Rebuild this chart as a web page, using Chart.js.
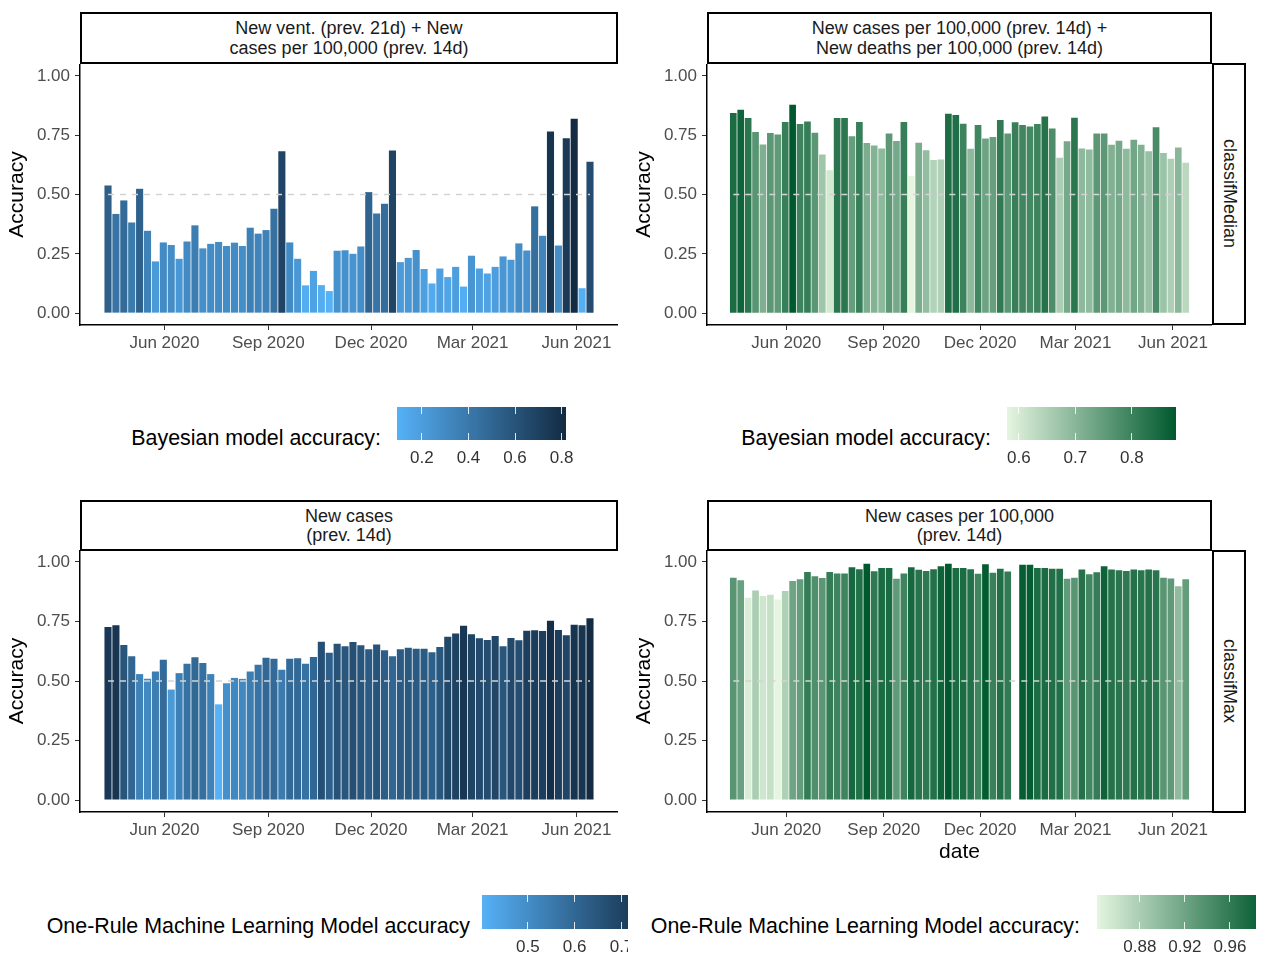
<!DOCTYPE html>
<html lang="en">
<head>
<meta charset="UTF-8">
<title>Model accuracy</title>
<script src="https://cdn.jsdelivr.net/npm/chart.js@4.4.1/dist/chart.umd.min.js"></script>
<style>
  body { margin: 0; background: #fff; font-family: "Liberation Sans", Arial, sans-serif; }
  #page { position: relative; width: 1265px; height: 955px; overflow: hidden; background: #fff; }
  canvas { position: absolute; }
  .strip { position: absolute; box-sizing: border-box; border: 2px solid #000; background: #fff;
           display: flex; align-items: center; justify-content: center; text-align: center;
           font-size: 18px; line-height: 19.5px; color: #1a1a1a; padding-top: 1px; }
  .strip.side { writing-mode: vertical-rl; padding-top: 0; }
  .legTitle { position: absolute; font-size: 21.4px; line-height: 24px; white-space: nowrap; color: #000; }
  .legBox { position: absolute; left: 0; top: 0; height: 955px; overflow: hidden; }
  .cbar { position: absolute; width: 169px; }
  .cbar i { position: absolute; width: 1px; background: rgba(255,255,255,0.85); }
  .legLab { position: absolute; font-size: 17px; line-height: 20px; color: #333; transform: translateX(-50%); white-space: nowrap; }
</style>
</head>
<body>
<div id="page">
  <div class="strip" style="left:80px;top:12px;width:538px;height:52px">New vent. (prev. 21d) + New<br>cases per 100,000 (prev. 14d)</div>
  <div class="strip" style="left:707px;top:12px;width:505px;height:52px">New cases per 100,000 (prev. 14d) +<br>New deaths per 100,000 (prev. 14d)</div>
  <div class="strip side" style="left:1212px;top:63px;width:34px;height:262px">classifMedian</div>
  <div class="strip" style="left:80px;top:500px;width:538px;height:51px">New cases<br>(prev. 14d)</div>
  <div class="strip" style="left:707px;top:500px;width:505px;height:51px">New cases per 100,000<br>(prev. 14d)</div>
  <div class="strip side" style="left:1212px;top:550px;width:34px;height:263px">classifMax</div>

  <canvas id="cTL" width="618" height="301" style="left:0;top:64px"></canvas>
  <canvas id="cTR" width="585" height="301" style="left:627px;top:64px"></canvas>
  <canvas id="cBL" width="618" height="302" style="left:0;top:550px"></canvas>
  <canvas id="cBR" width="585" height="324" style="left:627px;top:550px"></canvas>

  <div class="legTitle" style="right:884px;top:426px">Bayesian model accuracy:</div>
  <div class="legTitle" style="right:274px;top:426px">Bayesian model accuracy:</div>
  <div class="legTitle" style="right:795px;top:914px">One-Rule Machine Learning Model accuracy</div>
  <div class="legTitle" style="right:185px;top:914px">One-Rule Machine Learning Model accuracy:</div>
  <div class="legBox" id="legTL" style="width:1265px"></div>
  <div class="legBox" id="legTR" style="width:1265px"></div>
  <div class="legBox" id="legBL" style="width:628px"></div>
  <div class="legBox" id="legBR" style="width:1256px"></div>
</div>

<script>
// weekly dates of the bars
var weeks = [
  '2020-04-12','2020-04-19','2020-04-26','2020-05-03','2020-05-10','2020-05-17','2020-05-24','2020-05-31',
  '2020-06-07','2020-06-14','2020-06-21','2020-06-28','2020-07-05','2020-07-12','2020-07-19','2020-07-26',
  '2020-08-02','2020-08-09','2020-08-16','2020-08-23','2020-08-30','2020-09-06','2020-09-13','2020-09-20',
  '2020-09-27','2020-10-04','2020-10-11','2020-10-18','2020-10-25','2020-11-01','2020-11-08','2020-11-15',
  '2020-11-22','2020-11-29','2020-12-06','2020-12-13','2020-12-20','2020-12-27','2021-01-03','2021-01-10',
  '2021-01-17','2021-01-24','2021-01-31','2021-02-07','2021-02-14','2021-02-21','2021-02-28','2021-03-07',
  '2021-03-14','2021-03-21','2021-03-28','2021-04-04','2021-04-11','2021-04-18','2021-04-25','2021-05-02',
  '2021-05-09','2021-05-16','2021-05-23','2021-05-30','2021-06-06','2021-06-13'
];
var monthTicks = ['2020-06-01','2020-09-01','2020-12-01','2021-03-01','2021-06-01'];
var monthLabels = ['Jun 2020','Sep 2020','Dec 2020','Mar 2021','Jun 2021'];
var yTicks = [0, 0.25, 0.5, 0.75, 1];
var chance = 0.5;

// Bayesian model, classifMedian
var ventCasesAcc = [
  0.538,0.418,0.475,0.382,0.524,0.347,0.218,0.298,0.287,0.229,
  0.302,0.370,0.273,0.292,0.300,0.283,0.297,0.283,0.360,0.335,
  0.350,0.440,0.682,0.298,0.229,0.117,0.178,0.118,0.093,0.263,
  0.265,0.250,0.281,0.510,0.420,0.461,0.685,0.215,0.233,0.266,
  0.186,0.125,0.188,0.152,0.195,0.112,0.242,0.188,0.167,0.195,
  0.239,0.225,0.294,0.264,0.450,0.326,0.766,0.285,0.737,0.819,
  0.105,0.638
];
var casesDeathsAcc = [
  0.843,0.857,0.822,0.763,0.711,0.759,0.753,0.806,0.878,0.797,
  0.808,0.760,0.669,0.602,0.822,0.822,0.746,0.806,0.717,0.706,
  0.694,0.757,0.725,0.806,0.579,0.718,0.686,0.645,0.648,0.840,
  0.835,0.798,0.693,0.793,0.736,0.742,0.814,0.757,0.805,0.793,
  0.787,0.797,0.829,0.778,0.655,0.724,0.823,0.694,0.690,0.757,
  0.757,0.710,0.727,0.693,0.731,0.710,0.682,0.783,0.675,0.651,
  0.698,0.634
];
// One-Rule model, classifMax
var newCasesAcc = [
  0.727,0.734,0.651,0.604,0.529,0.509,0.540,0.589,0.464,0.533,
  0.572,0.600,0.576,0.529,0.402,0.491,0.513,0.509,0.540,0.568,
  0.598,0.593,0.547,0.593,0.596,0.572,0.601,0.665,0.619,0.656,
  0.646,0.664,0.650,0.633,0.653,0.629,0.604,0.633,0.640,0.635,
  0.635,0.621,0.643,0.686,0.699,0.732,0.696,0.679,0.672,0.689,
  0.646,0.681,0.671,0.711,0.713,0.710,0.753,0.714,0.692,0.736,
  0.734,0.763
];
var casesPer100kAcc = [
  0.934,0.923,0.850,0.880,0.857,0.862,0.842,0.878,0.920,0.927,
  0.958,0.940,0.932,0.958,0.951,0.951,0.978,0.969,0.992,0.961,
  0.974,0.974,0.929,0.951,0.978,0.967,0.962,0.969,0.982,0.992,
  0.974,0.974,0.969,0.950,0.990,0.954,0.971,0.960,null,0.988,
  0.988,0.974,0.974,0.971,0.971,0.929,0.934,0.968,0.948,0.957,
  0.982,0.968,0.965,0.962,0.968,0.965,0.968,0.965,0.933,0.930,
  0.898,0.927
];

var ventLegendTicks = [0.2, 0.4, 0.6, 0.8];
var deathsLegendTicks = [0.6, 0.7, 0.8];
var casesLegendTicks = [0.5, 0.6, 0.7];
var per100kLegendTicks = [0.88, 0.92, 0.96];

var blueLow = '#56B1F7', blueHigh = '#132B43';
var greenLow = '#E5F5E0', greenHigh = '#00592E';

var FONT = '"Liberation Sans", Arial, sans-serif';
Chart.defaults.font.family = FONT;

var origin = Date.parse('2020-01-01');
function toDay(s) { return (Date.parse(s) - origin) / 86400000; }

function hexRgb(h) {
  return [parseInt(h.substr(1, 2), 16), parseInt(h.substr(3, 2), 16), parseInt(h.substr(5, 2), 16)];
}
function mix(a, b, t) {
  var A = hexRgb(a), B = hexRgb(b);
  var c = A.map(function (v, i) { return Math.round(v + (B[i] - v) * t); });
  return 'rgb(' + c.join(',') + ')';
}
function range(vals) {
  var v = vals.filter(function (d) { return d != null; });
  return [Math.min.apply(null, v), Math.max.apply(null, v)];
}

function makePanel(id, values, low, high, xTitle) {
  var xs = weeks.map(toDay);
  var r = range(values);
  var half = 0.45 * 7;
  var span = xs[xs.length - 1] - xs[0] + 2 * half;
  var xMin = xs[0] - half - 0.05 * span;
  var xMax = xs[xs.length - 1] + half + 0.05 * span;
  var tickDays = monthTicks.map(toDay);

  new Chart(document.getElementById(id), {
    type: 'bar',
    data: {
      datasets: [{
        type: 'line',
        data: [{x: xs[0], y: chance}, {x: xs[xs.length - 1], y: chance}],
        borderColor: '#d3d3d3',
        borderWidth: 1.6,
        borderDash: [6, 6],
        pointRadius: 0,
        order: 0
      }, {
        data: xs.map(function (x, i) { return {x: x, y: values[i]}; }),
        backgroundColor: values.map(function (v) {
          return v == null ? 'rgba(0,0,0,0)' : mix(low, high, (v - r[0]) / (r[1] - r[0]));
        }),
        borderWidth: 0,
        barPercentage: 0.9,
        categoryPercentage: 1,
        order: 1
      }]
    },
    options: {
      responsive: false,
      animation: false,
      layout: { padding: 0 },
      plugins: { legend: { display: false }, tooltip: { enabled: false } },
      scales: {
        x: {
          type: 'linear',
          min: xMin,
          max: xMax,
          offset: false,
          grid: { offset: false, drawOnChartArea: false, drawTicks: true, tickLength: 5, color: '#333' },
          border: { display: true, color: '#000', width: 1.5 },
          ticks: {
            font: { size: 17 }, color: '#4d4d4d', padding: 3, maxRotation: 0, autoSkip: false,
            callback: function (v, i) { return monthLabels[i]; }
          },
          title: { display: !!xTitle, text: xTitle || '', font: { size: 21 }, color: '#000', padding: { top: 0, bottom: 9 } },
          afterBuildTicks: function (s) { s.ticks = tickDays.map(function (v) { return {value: v}; }); },
          afterFit: function (s) { s.height = xTitle ? 62 : 40; s.paddingLeft = 0; s.paddingRight = 0; }
        },
        y: {
          min: -0.05,
          max: 1.05,
          grid: { drawOnChartArea: false, drawTicks: true, tickLength: 5, color: '#333' },
          border: { display: true, color: '#000', width: 1.5 },
          ticks: {
            font: { size: 17 }, color: '#4d4d4d', padding: 5,
            callback: function (v) { return v.toFixed(2); }
          },
          title: { display: true, text: 'Accuracy', font: { size: 21 }, color: '#000', padding: { top: 5, bottom: 0 } },
          afterBuildTicks: function (s) { s.ticks = yTicks.map(function (v) { return {value: v}; }); },
          afterFit: function (s) { s.width = 80; s.paddingTop = 0; s.paddingBottom = 0; }
        }
      }
    }
  });
}

function colorbar(boxId, values, low, high, tickVals, left, top, h) {
  var r = range(values);
  var box = document.getElementById(boxId);
  var bar = document.createElement('div');
  bar.className = 'cbar';
  bar.style.left = left + 'px';
  bar.style.top = top + 'px';
  bar.style.height = h + 'px';
  bar.style.background = 'linear-gradient(to right, ' + low + ', ' + high + ')';
  box.appendChild(bar);
  tickVals.forEach(function (v) {
    var x = (v - r[0]) / (r[1] - r[0]) * 169;
    [0, h - h / 5].forEach(function (ty) {
      var t = document.createElement('i');
      t.style.left = (x - 0.5) + 'px';
      t.style.top = ty + 'px';
      t.style.height = (h / 5) + 'px';
      bar.appendChild(t);
    });
    var lab = document.createElement('div');
    lab.className = 'legLab';
    lab.style.left = (left + x) + 'px';
    lab.style.top = (top + h + 8) + 'px';
    lab.textContent = String(v);
    box.appendChild(lab);
  });
}

makePanel('cTL', ventCasesAcc, blueLow, blueHigh);
makePanel('cTR', casesDeathsAcc, greenLow, greenHigh);
makePanel('cBL', newCasesAcc, blueLow, blueHigh);
makePanel('cBR', casesPer100kAcc, greenLow, greenHigh, 'date');

colorbar('legTL', ventCasesAcc, blueLow, blueHigh, ventLegendTicks, 397, 407, 33);
colorbar('legTR', casesDeathsAcc, greenLow, greenHigh, deathsLegendTicks, 1007, 407, 33);
colorbar('legBL', newCasesAcc, blueLow, blueHigh, casesLegendTicks, 482, 895, 34);
colorbar('legBR', casesPer100kAcc, greenLow, greenHigh, per100kLegendTicks, 1097, 895, 34);
</script>
</body>
</html>
